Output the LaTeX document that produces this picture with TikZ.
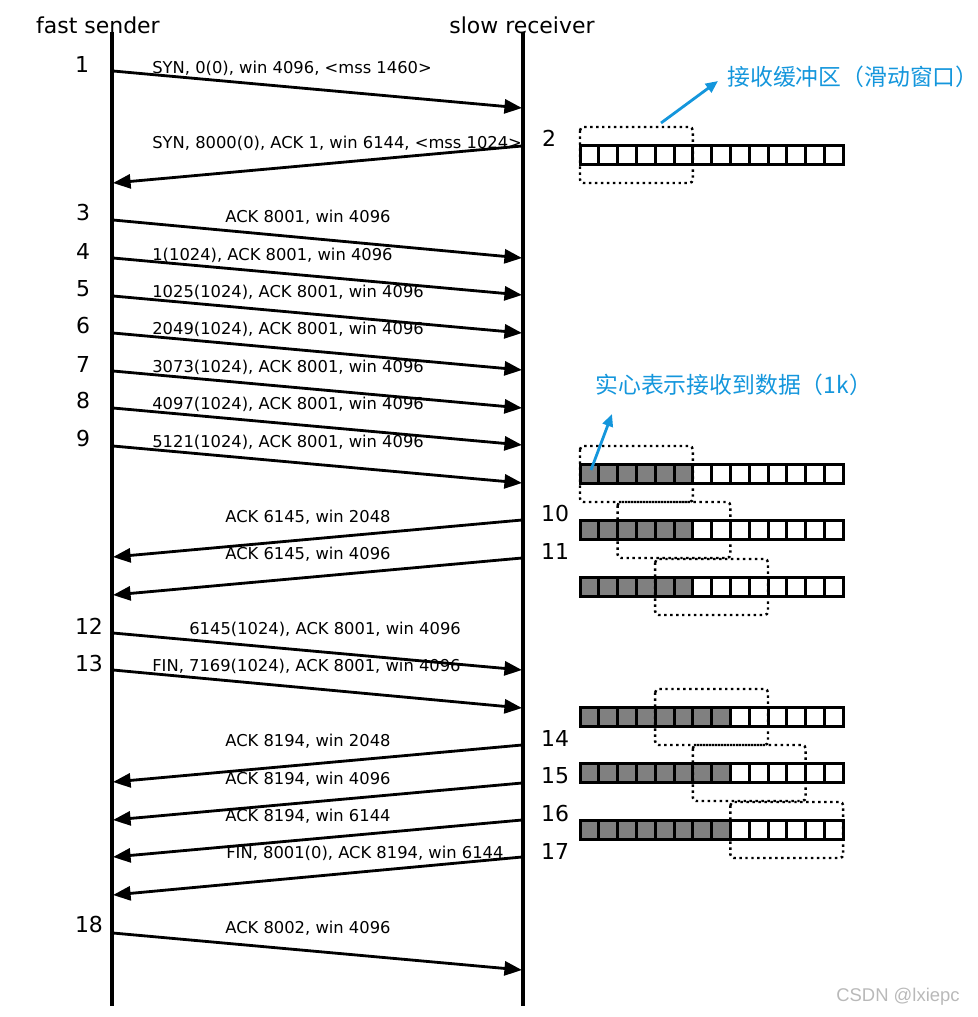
\documentclass[tikz,border=0pt]{standalone}
\usepackage{fontspec}
\setmainfont{DejaVu Sans}
\newfontfamily\cjk{Noto Sans CJK SC}
\newfontfamily\wmfont{Liberation Sans}
\usepackage{xcolor}
\usepackage{tikz}
\usetikzlibrary{arrows.meta, positioning, calc}
\definecolor{notecol}{RGB}{20,150,220}
\definecolor{datagray}{RGB}{128,128,128}
\tikzset{
        actor/.style={inner sep=0pt, font=\fontsize{12.5}{14}\selectfont},
        lifeline/.style={line width=1.9pt},
        msg/.style={-{Triangle[length=10pt,width=8pt]}, line width=1.6pt},
        msglabel/.style={anchor=west, inner sep=0pt, font=\fontsize{9.3}{11}\selectfont},
        stepnum/.style={inner sep=0pt, font=\fontsize{12.5}{14}\selectfont},
        cell/.style={draw, line width=1.7pt, fill=white},
        window/.style={draw, dotted, line width=1.4pt, rounded corners=2pt},
        note/.style={anchor=west, inner sep=0pt, text=notecol, font=\cjk\fontsize{13}{15}\selectfont},
        notearrow/.style={-{Triangle[length=7pt,width=6pt]}, line width=1.6pt, draw=notecol},
    }
% receive buffer: y centre, filled cells, first cell of window
\newcommand{\rcvbuf}[3]{%
    \foreach \i in {0,...,13} {
        \ifnum\i<#2 \def\cellfill{datagray}\else\def\cellfill{white}\fi
        \draw[cell, fill=\cellfill] ({580+\i*18.8},{#1-9.5}) rectangle ++(18.8,19);
    }
    \draw[window] ({580+#3*18.8},{#1-28}) rectangle ++(112.8,56);
}

\begin{document}
\begin{tikzpicture}[x=0.02cm, y=-0.02cm]
        \useasboundingbox (0,0) rectangle (977,1017);

        % Actors
        \node[actor] (snd) at (98,25) {fast sender};
        \node[actor] (rcv) at (522,25) {slow receiver};
        \coordinate (sndTop) at (112,32);
        \coordinate (sndBot) at (112,1006);
        \coordinate (rcvTop) at (523,32);
        \coordinate (rcvBot) at (523,1006);
        \draw[lifeline] (sndTop) -- (sndBot);
        \draw[lifeline] (rcvTop) -- (rcvBot);

        % 1
        \coordinate (s1) at (113,71); \coordinate (r1) at (522,108);
        \draw[msg] (s1) -- (r1);
        \node[msglabel] (l1) at (152,68) {SYN, 0(0), win 4096, <mss 1460>};
        \node[stepnum] (n1) at (82,64) {1};

        % 2
        \coordinate (r2) at (522,146); \coordinate (s2) at (113,183);
        \draw[msg] (r2) -- (s2);
        \node[msglabel] (l2) at (152,143) {SYN, 8000(0), ACK 1, win 6144, <mss 1024>};
        \node[stepnum] (n2) at (549,138) {2};

        % 3
        \coordinate (s3) at (113,220); \coordinate (r3) at (522,258);
        \draw[msg] (s3) -- (r3);
        \node[msglabel] (l3) at (225,217) {ACK 8001, win 4096};
        \node[stepnum] (n3) at (83,213) {3};

        % 4
        \coordinate (s4) at (113,258); \coordinate (r4) at (522,295);
        \draw[msg] (s4) -- (r4);
        \node[msglabel] (l4) at (152,255) {1(1024), ACK 8001, win 4096};
        \node[stepnum] (n4) at (83,251) {4};

        % 5
        \coordinate (s5) at (113,296); \coordinate (r5) at (522,333);
        \draw[msg] (s5) -- (r5);
        \node[msglabel] (l5) at (152,292) {1025(1024), ACK 8001, win 4096};
        \node[stepnum] (n5) at (83,289) {5};

        % 6
        \coordinate (s6) at (113,333); \coordinate (r6) at (522,370);
        \draw[msg] (s6) -- (r6);
        \node[msglabel] (l6) at (152,329) {2049(1024), ACK 8001, win 4096};
        \node[stepnum] (n6) at (83,326) {6};

        % 7
        \coordinate (s7) at (113,371); \coordinate (r7) at (522,408);
        \draw[msg] (s7) -- (r7);
        \node[msglabel] (l7) at (152,367) {3073(1024), ACK 8001, win 4096};
        \node[stepnum] (n7) at (83,364) {7};

        % 8
        \coordinate (s8) at (113,408); \coordinate (r8) at (522,445);
        \draw[msg] (s8) -- (r8);
        \node[msglabel] (l8) at (152,404) {4097(1024), ACK 8001, win 4096};
        \node[stepnum] (n8) at (83,401) {8};

        % 9
        \coordinate (s9) at (113,446); \coordinate (r9) at (522,483);
        \draw[msg] (s9) -- (r9);
        \node[msglabel] (l9) at (152,442) {5121(1024), ACK 8001, win 4096};
        \node[stepnum] (n9) at (83,439) {9};

        % 10
        \coordinate (r10) at (522,520); \coordinate (s10) at (113,557);
        \draw[msg] (r10) -- (s10);
        \node[msglabel] (l10) at (225,517) {ACK 6145, win 2048};
        \node[stepnum] (n10) at (555,514) {10};

        % 11
        \coordinate (r11) at (522,558); \coordinate (s11) at (113,595);
        \draw[msg] (r11) -- (s11);
        \node[msglabel] (l11) at (225,554) {ACK 6145, win 4096};
        \node[stepnum] (n11) at (555,551) {11};

        % 12
        \coordinate (s12) at (113,633); \coordinate (r12) at (522,670);
        \draw[msg] (s12) -- (r12);
        \node[msglabel] (l12) at (189,629) {6145(1024), ACK 8001, win 4096};
        \node[stepnum] (n12) at (89,626) {12};

        % 13
        \coordinate (s13) at (113,670); \coordinate (r13) at (522,708);
        \draw[msg] (s13) -- (r13);
        \node[msglabel] (l13) at (152,666) {FIN, 7169(1024), ACK 8001, win 4096};
        \node[stepnum] (n13) at (89,663) {13};

        % 14
        \coordinate (r14) at (522,745); \coordinate (s14) at (113,782);
        \draw[msg] (r14) -- (s14);
        \node[msglabel] (l14) at (225,741) {ACK 8194, win 2048};
        \node[stepnum] (n14) at (555,738) {14};

        % 15
        \coordinate (r15) at (522,783); \coordinate (s15) at (113,820);
        \draw[msg] (r15) -- (s15);
        \node[msglabel] (l15) at (225,779) {ACK 8194, win 4096};
        \node[stepnum] (n15) at (555,776) {15};

        % 16
        \coordinate (r16) at (522,820); \coordinate (s16) at (113,857);
        \draw[msg] (r16) -- (s16);
        \node[msglabel] (l16) at (225,816) {ACK 8194, win 6144};
        \node[stepnum] (n16) at (555,813) {16};

        % 17
        \coordinate (r17) at (522,857); \coordinate (s17) at (113,895);
        \draw[msg] (r17) -- (s17);
        \node[msglabel] (l17) at (226,853) {FIN, 8001(0), ACK 8194, win 6144};
        \node[stepnum] (n17) at (555,851) {17};

        % 18
        \coordinate (s18) at (113,933); \coordinate (r18) at (522,970);
        \draw[msg] (s18) -- (r18);
        \node[msglabel] (l18) at (225,928) {ACK 8002, win 4096};
        \node[stepnum] (n18) at (89,924) {18};

        % Receive buffers
        \rcvbuf{155}{0}{0}
        \rcvbuf{474}{6}{0}
        \rcvbuf{530}{6}{2}
        \rcvbuf{587}{6}{4}
        \rcvbuf{717}{8}{4}
        \rcvbuf{773}{8}{6}
        \rcvbuf{830}{8}{8}

        % Notes
        \node[note] (noteBuf) at (727,77) {接收缓冲区（滑动窗口）};
        \coordinate (winA) at (661,123);
        \coordinate (noteBufTip) at (718,81);
        \draw[notearrow] (winA) -- (noteBufTip);

        \node[note] (noteData) at (595,385) {实心表示接收到数据（1k）};
        \coordinate (cellB) at (591,470);
        \coordinate (noteDataTip) at (612,414);
        \draw[notearrow] (cellB) -- (noteDataTip);

        % Watermark
        \node[text=gray!55, font=\wmfont\fontsize{10.5}{12}\selectfont] (wm) at (898,997) {CSDN @lxiepc};

    \end{tikzpicture}
\end{document}
